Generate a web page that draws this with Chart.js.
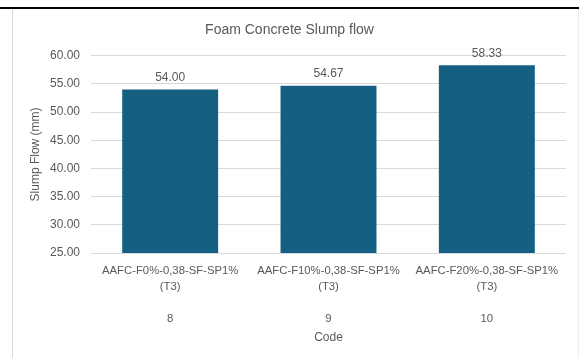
<!DOCTYPE html>
<html>
<head>
<meta charset="utf-8">
<script src="https://cdn.jsdelivr.net/npm/chart.js@4.4.1/dist/chart.umd.min.js"></script>
<style>
  html, body { margin: 0; padding: 0; background: #fff; }
  #topline { position: absolute; left: 0; top: 7px; width: 579px; height: 2px; background: #000; }
  #frame { position: absolute; left: 12px; top: 9px; width: 565px; height: 349px;
           border-left: 1px solid #d9d9d9; border-right: 1px solid #ececec; }
</style>
</head>
<body>
<div id="topline"></div>
<div id="frame"><canvas id="slumpChart" width="565" height="349"></canvas></div>
<script>
// slump flow per mix (mm)
var mixNames = ['AAFC-F0%-0,38-SF-SP1%', 'AAFC-F10%-0,38-SF-SP1%', 'AAFC-F20%-0,38-SF-SP1%'];
var mixTags = ['(T3)', '(T3)', '(T3)'];
var codes = ['8', '9', '10'];
var slumpValues = [54.00, 54.67, 58.33];
var yTicks = [25, 30, 35, 40, 45, 50, 55, 60];

var textColor = '#595959';
var fontFam = '"Liberation Sans", Arial, sans-serif';

// labels with 3 levels: name / tag / blank / code
var labels = mixNames.map(function (n, i) { return [n, mixTags[i], '', codes[i]]; });

// values above the bars
Chart.register({
    id: 'barValues',
    afterDatasetsDraw: function (chart) {
        var ctx = chart.ctx;
        var meta = chart.getDatasetMeta(0);
        ctx.save();
        ctx.font = '12px ' + fontFam;
        ctx.fillStyle = textColor;
        ctx.textAlign = 'center';
        ctx.textBaseline = 'bottom';
        meta.data.forEach(function (bar, i) {
            ctx.fillText(slumpValues[i].toFixed(2), bar.x, bar.y - 6);
        });
        ctx.restore();
    }
});

new Chart(document.getElementById('slumpChart'), {
    type: 'bar',
    data: {
        labels: labels,
        datasets: [{
            label: 'Slump Flow',
            data: slumpValues,
            backgroundColor: '#156082',
            borderWidth: 0,
            categoryPercentage: 1,
            barPercentage: 0.606
        }]
    },
    options: {
        responsive: false,
        animation: false,
        layout: { padding: { right: 12 } },
        plugins: {
            legend: { display: false },
            tooltip: { enabled: false },
            title: {
                display: true,
                text: 'Foam Concrete Slump flow',
                color: textColor,
                font: { family: fontFam, size: 14, weight: 'normal' },
                padding: { top: 13, bottom: 17 }
            }
        },
        scales: {
            y: {
                min: 25,
                max: 60,
                afterBuildTicks: function (axis) {
                    axis.ticks = yTicks.map(function (v) { return { value: v }; });
                },
                afterFit: function (axis) { axis.width = 78; },
                border: { display: false },
                grid: { color: '#d9d9d9', drawTicks: false },
                ticks: {
                    color: textColor,
                    padding: 11,
                    font: { family: fontFam, size: 12 },
                    callback: function (v) { return Number(v).toFixed(2); }
                },
                title: {
                    display: true,
                    text: 'Slump Flow (mm)',
                    color: textColor,
                    font: { family: fontFam, size: 12 },
                    padding: { top: 15 }
                }
            },
            x: {
                afterFit: function (axis) { axis.height = 105; },
                border: { display: false },
                grid: { display: false, drawTicks: false },
                ticks: {
                    color: textColor,
                    padding: 10,
                    maxRotation: 0,
                    autoSkip: false,
                    font: { family: fontFam, size: 11.3, lineHeight: 16 / 11.3 }
                },
                title: {
                    display: true,
                    text: 'Code',
                    color: textColor,
                    font: { family: fontFam, size: 12 },
                    padding: { bottom: 13 }
                }
            }
        }
    }
});
</script>
</body>
</html>
